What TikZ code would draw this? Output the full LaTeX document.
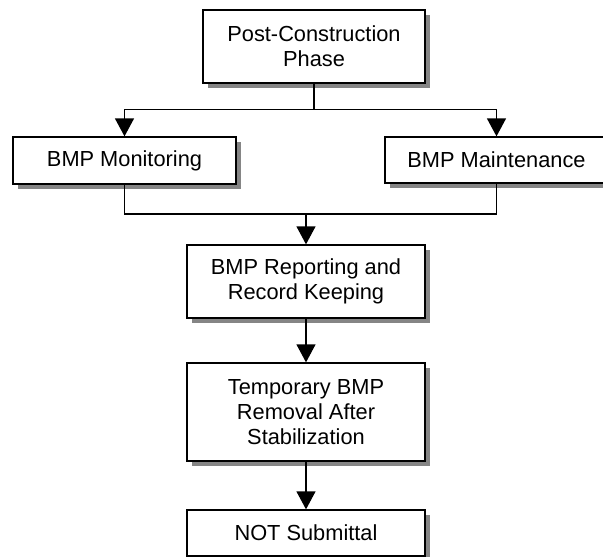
\documentclass[tikz,border=0pt]{standalone}
\usepackage{fontspec}
\setmainfont{Liberation Sans}
\usetikzlibrary{arrows.meta,shadows}
\tikzset{
  box/.style={draw=black, line width=1.3pt, fill=white, inner sep=0pt, align=center,
    font=\fontsize{21.8}{25}\selectfont,
    drop shadow={shadow xshift=5pt, shadow yshift=-5pt, fill=black!48, opacity=1}},
  conn/.style={line width=1.3pt, draw=black},
  arr/.style={conn, -{Triangle[width=19pt,length=18pt]}}
}
\begin{document}
\begin{tikzpicture}[x=1pt,y=-1pt]
\path[use as bounding box] (0,0) rectangle (603,557);
\clip (0,0) rectangle (603,557);
\node[box, minimum width=222pt, minimum height=73pt] (post) at (314,46.5) {Post-Construction\\Phase};
\node[box, minimum width=223pt, minimum height=47pt] (mon) at (124.5,160.5) {BMP Monitoring};
\node[box, minimum width=223pt, minimum height=46pt] (main) at (496.5,160) {BMP Maintenance};
\node[box, minimum width=238pt, minimum height=73pt] (rep) at (306,281.5) {BMP Reporting and\\Record Keeping};
\node[box, minimum width=238pt, minimum height=98pt] (temp) at (306,412) {Temporary BMP\\Removal After\\Stabilization};
\node[box, minimum width=238pt, minimum height=46pt] (nots) at (306,533) {NOT Submittal};
\coordinate (j) at (314,109.5);
\coordinate (k) at (306,214);
\draw[conn] (post.south) -- (j);
\draw[arr] (j) -| (mon.north);
\draw[arr] (j) -| (main.north);
\draw[conn] (mon.south) |- (k) -| (main.south);
\draw[arr] (k) -- (rep.north);
\draw[arr] (rep.south) -- (temp.north);
\draw[arr] (temp.south) -- (nots.north);
\end{tikzpicture}
\end{document}
